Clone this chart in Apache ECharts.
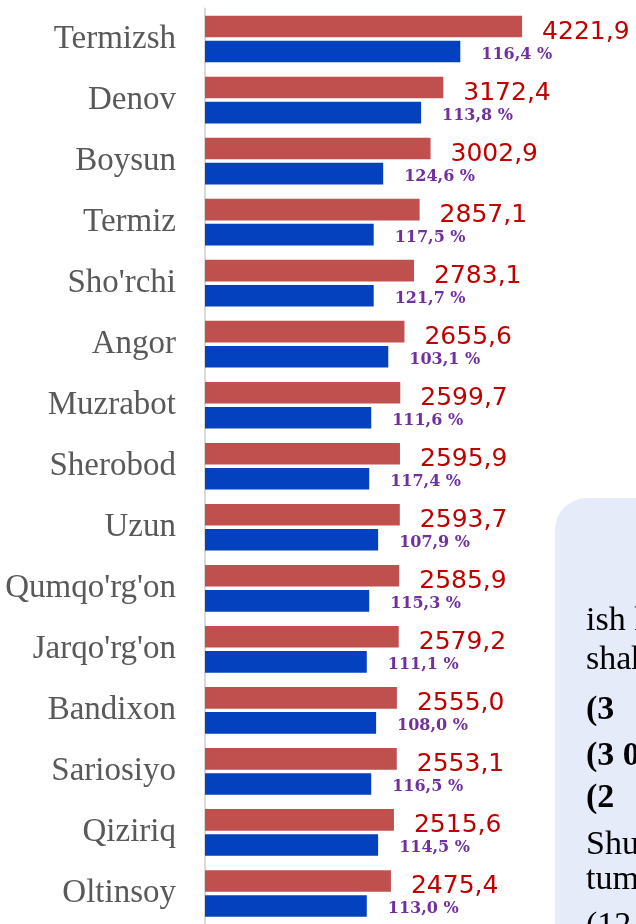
<!DOCTYPE html>
<html>
<head>
<meta charset="utf-8">
<script src="https://cdn.jsdelivr.net/npm/echarts@6/dist/echarts.min.js"></script>
<style>
  html, body { margin: 0; padding: 0; background: #fff; }
  #chart { width: 636px; height: 924px; }
</style>
</head>
<body>
<div id="chart"></div>
<script>
// districts, top to bottom
const districts = [
  "Termizsh", "Denov", "Boysun", "Termiz", "Sho'rchi", "Angor", "Muzrabot",
  "Sherobod", "Uzun", "Qumqo'rg'on", "Jarqo'rg'on", "Bandixon", "Sariosiyo",
  "Qiziriq", "Oltinsoy"
];
// red bars (labelled values)
const currentValues = [
  4221.9, 3172.4, 3002.9, 2857.1, 2783.1, 2655.6, 2599.7,
  2595.9, 2593.7, 2585.9, 2579.2, 2555.0, 2553.1, 2515.6, 2475.4
];
// blue bars (lengths)
const blueValues = [
  3399, 2877, 2372, 2246, 2246, 2440, 2213,
  2186, 2305, 2186, 2154, 2278, 2213, 2305, 2154
];
// percent labels on the blue bars
const percentLabels = [
  "116,4 %", "113,8 %", "124,6 %", "117,5 %", "121,7 %", "103,1 %", "111,6 %",
  "117,4 %", "107,9 %", "115,3 %", "111,1 %", "108,0 %", "116,5 %", "114,5 %", "113,0 %"
];
// text lines in the side box (cut off at the right edge), y = baseline
const boxLines = [
  { text: "ish haqi", bold: false, y: 633 },
  { text: "shahar", bold: false, y: 672 },
  { text: "(3", bold: true, y: 722 },
  { text: "(3 0", bold: true, y: 768 },
  { text: "(2", bold: true, y: 810 },
  { text: "Shunin", bold: false, y: 857 },
  { text: "tuman", bold: false, y: 892 },
  { text: "(12", bold: false, y: 938 }
];

let chart = echarts.init(document.getElementById("chart"), null, { renderer: "canvas" });

let boxElements = [
  {
    type: "rect",
    z: -1,
    shape: { x: 555, y: 498, width: 140, height: 480, r: 32 },
    style: { fill: "#e6ebfa" }
  }
];
boxLines.forEach(function (line) {
  boxElements.push({
    type: "text",
    x: 586,
    y: line.y - 11.5, // middle of the em box sits about a third of the size above the baseline
    style: {
      text: line.text,
      fill: "#000",
      font: (line.bold ? "bold " : "") + "34px 'Liberation Serif', serif",
      verticalAlign: "middle",
      align: "left"
    }
  });
});

let option = {
  animation: false,
  backgroundColor: "#fff",
  grid: { left: 205, top: 8.5, width: 338, height: 921.5 },
  xAxis: {
    type: "value",
    min: 0,
    max: 4500,
    show: false
  },
  yAxis: {
    type: "category",
    inverse: true,
    data: districts,
    axisLine: { show: true, lineStyle: { color: "#d9d9d9", width: 2 } },
    axisTick: { show: false },
    axisLabel: {
      margin: 29,
      color: "#595959",
      fontFamily: "'Liberation Serif', serif",
      fontSize: 33,
      padding: [4, 0, 0, 0]
    }
  },
  series: [
    {
      type: "bar",
      data: currentValues,
      barWidth: 21.6,
      barGap: "16%",
      itemStyle: { color: "#c0504d" },
      label: {
        show: true,
        position: "right",
        distance: 20,
        offset: [0, 6],
        color: "#c00000",
        fontFamily: "'DejaVu Sans', sans-serif",
        fontSize: 25,
        formatter: function (p) {
          return p.value.toFixed(1).replace(".", ",");
        }
      }
    },
    {
      type: "bar",
      data: blueValues,
      barWidth: 21.6,
      itemStyle: { color: "#0341be" },
      label: {
        show: true,
        position: "right",
        distance: 21,
        offset: [0, 3],
        color: "#7030a0",
        fontFamily: "'DejaVu Serif', serif",
        fontWeight: "bold",
        fontSize: 16,
        formatter: function (p) {
          return percentLabels[p.dataIndex];
        }
      }
    }
  ],
  graphic: boxElements
};
chart.setOption(option);
</script>
</body>
</html>
